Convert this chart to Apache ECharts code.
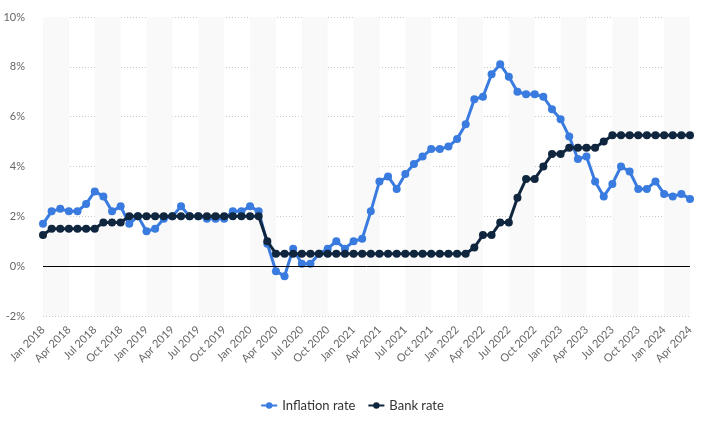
<!DOCTYPE html>
<html><head><meta charset="utf-8">
<script src="https://cdn.jsdelivr.net/npm/echarts@6/dist/echarts.min.js"></script>
<style>html,body{margin:0;padding:0;background:#fff}#c{width:704px;height:421px}</style>
</head><body><div id="c"></div>
<script>
const months = ['Jan','Feb','Mar','Apr','May','Jun','Jul','Aug','Sep','Oct','Nov','Dec'];
const years = [2018,2019,2020,2021,2022,2023,2024];
const categories = [];
years.forEach(y => months.forEach((m,i) => { if (y < 2024 || i < 4) categories.push(m + ' ' + y); }));

const inflationRate = [
  1.7, 2.2, 2.3, 2.2, 2.2, 2.5, 3.0, 2.8, 2.2, 2.4, 1.7, 2.0,
  1.4, 1.5, 1.9, 2.0, 2.4, 2.0, 2.0, 1.9, 1.9, 1.9, 2.2, 2.2,
  2.4, 2.2, 0.9, -0.2, -0.4, 0.7, 0.1, 0.1, 0.5, 0.7, 1.0, 0.7,
  1.0, 1.1, 2.2, 3.4, 3.6, 3.1, 3.7, 4.1, 4.4, 4.7, 4.7, 4.8,
  5.1, 5.7, 6.7, 6.8, 7.7, 8.1, 7.6, 7.0, 6.9, 6.9, 6.8, 6.3,
  5.9, 5.2, 4.3, 4.4, 3.4, 2.8, 3.3, 4.0, 3.8, 3.1, 3.1, 3.4,
  2.9, 2.8, 2.9, 2.7
];
const bankRate = [
  1.25, 1.5, 1.5, 1.5, 1.5, 1.5, 1.5, 1.75, 1.75, 1.75, 2.0, 2.0,
  2.0, 2.0, 2.0, 2.0, 2.0, 2.0, 2.0, 2.0, 2.0, 2.0, 2.0, 2.0,
  2.0, 2.0, 1.0, 0.5, 0.5, 0.5, 0.5, 0.5, 0.5, 0.5, 0.5, 0.5,
  0.5, 0.5, 0.5, 0.5, 0.5, 0.5, 0.5, 0.5, 0.5, 0.5, 0.5, 0.5,
  0.5, 0.5, 0.75, 1.25, 1.25, 1.75, 1.75, 2.75, 3.5, 3.5, 4.0, 4.5,
  4.5, 4.75, 4.75, 4.75, 4.75, 5.0, 5.25, 5.25, 5.25, 5.25, 5.25, 5.25,
  5.25, 5.25, 5.25, 5.25
];
const yTicks = { min: -2, max: 10, interval: 2 };

const chart = echarts.init(document.getElementById('c'), null, {renderer:'canvas'});
chart.setOption({
  animation: false,
  textStyle: { fontFamily: 'Lato, "Open Sans", sans-serif' },
  grid: { left: 43, right: 14, top: 17, bottom: 105 },
  legend: {
    bottom: 4, left: 'center', itemWidth: 16, itemHeight: 8, itemGap: 12,
    textStyle: { color: '#333', fontSize: 13 },
    data: ['Inflation rate', 'Bank rate']
  },
  xAxis: {
    type: 'category', data: categories, boundaryGap: false,
    axisLine: { show: false }, axisTick: { show: false },
    axisLabel: { interval: 2, rotate: 45, color: '#666', fontSize: 11, margin: 12 },
    splitLine: { show: false },
    splitArea: { show: true, interval: 2, areaStyle: { color: ['#f9f9f9', 'rgba(255,255,255,0)'] } }
  },
  yAxis: {
    type: 'value', min: yTicks.min, max: yTicks.max, interval: yTicks.interval,
    axisLine: { show: false }, axisTick: { show: false },
    axisLabel: { formatter: '{value}%', color: '#666', fontSize: 11, margin: 18 },
    splitLine: { lineStyle: { color: '#c8c8c8', type: [1, 2], width: 1 } }
  },
  series: [
    {
      name: 'Inflation rate', type: 'line', data: inflationRate,
      symbol: 'circle', symbolSize: 8, showSymbol: true, showAllSymbol: true, z: 3,
      itemStyle: { color: '#3a7be0' }, lineStyle: { width: 3, color: '#3a7be0' },
      markLine: { silent: true, symbol: 'none', label: { show: false },
        lineStyle: { color: '#000', type: 'solid', width: 1 }, data: [{ yAxis: 0 }] }
    },
    {
      name: 'Bank rate', type: 'line', data: bankRate,
      symbol: 'circle', symbolSize: 8, showSymbol: true, showAllSymbol: true, z: 4,
      itemStyle: { color: '#10263f' }, lineStyle: { width: 3, color: '#10263f' }
    }
  ]
});
</script></body></html>
